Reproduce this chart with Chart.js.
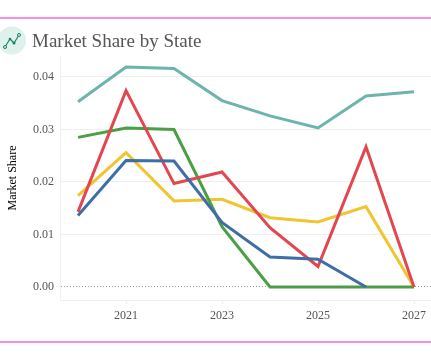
<!DOCTYPE html>
<html><head><meta charset="utf-8">
<style>
html,body{margin:0;padding:0;background:#fff;overflow:hidden}
#wrap{position:relative;width:431px;height:360px}
canvas{position:absolute;left:0;top:0}
.rule{position:absolute;left:0;width:431px;height:2px;background:#f78fe6}
h1{position:absolute;left:32px;top:29px;margin:0;font:400 19px/24px "Liberation Serif",serif;color:#555;white-space:nowrap}
svg{position:absolute;left:-2px;top:26px}
</style></head><body>
<div id="wrap">
<canvas id="c" width="431" height="360"></canvas>
<div class="rule" style="top:17px"></div>
<div class="rule" style="top:341px"></div>
<svg width="28" height="29" viewBox="0 0 28 29"><circle cx="14" cy="14.5" r="14" fill="#dff1ec"/>
<polyline points="7,21 12,13 16,17 21,9" fill="none" stroke="#14825f" stroke-width="1.1"/>
<circle cx="7" cy="21" r="1.5" fill="#dff1ec" stroke="#14825f"/><circle cx="12" cy="13" r="1.3" fill="#14825f"/><circle cx="16" cy="17" r="1.5" fill="#14825f"/><circle cx="21" cy="9" r="1.5" fill="#dff1ec" stroke="#14825f"/></svg>
<h1>Market Share by State</h1>
</div>
<script src="https://cdn.jsdelivr.net/npm/chart.js@4"></script>
<script>
const years=[2020,2021,2022,2023,2024,2025,2026,2027];
const xTicks=[2021,2023,2025,2027];
const yTicks=[0,0.01,0.02,0.03,0.04];
const teal=[0.0353,0.0419,0.0416,0.0355,0.0326,0.0303,0.0364,0.0372];
const green=[0.0285,0.0303,0.0300,0.0115,0,0,0,0];
const yellow=[0.0174,0.0256,0.0164,0.0167,0.0132,0.0124,0.0153,0];
const blue=[0.0136,0.0241,0.0240,0.0123,0.0057,0.0053,0,null];
const red=[0.0143,0.0374,0.0197,0.0219,0.0113,0.0039,0.0267,0];
const serif='"Liberation Serif",serif';
function ds(label,vals,color){return{label,data:vals.map((v,i)=>({x:years[i],y:v})),borderColor:color,borderWidth:3,pointRadius:0,tension:0,fill:false,spanGaps:false,borderJoinStyle:'miter',borderCapStyle:'butt'};}
new Chart(document.getElementById('c'),{type:'line',
data:{datasets:[ds('Blue',blue,'#3e6ea6'),ds('Red',red,'#e2474f'),ds('Green',green,'#4a9e45'),ds('Yellow',yellow,'#f0c531'),ds('Teal',teal,'#6cb4ac')]},
options:{responsive:false,animation:false,layout:{padding:{top:56,left:0,right:0,bottom:0}},
plugins:{legend:{display:false},tooltip:{enabled:false}},
scales:{
x:{type:'linear',min:2019.625,max:2027.354,afterFit:s=>{s.height=60},afterBuildTicks:s=>{s.ticks=xTicks.map(value=>({value}))},
 grid:{drawOnChartArea:false,drawTicks:true,tickLength:4,color:'#eeeeee'},border:{color:'#f0f0f0',width:1},
 ticks:{padding:5,font:{family:serif,size:12},color:'#555',maxRotation:0,autoSkip:false,callback:v=>String(v)}},
y:{type:'linear',min:-0.00248,max:0.04400,afterFit:s=>{s.width=60},afterBuildTicks:s=>{s.ticks=yTicks.map(value=>({value}))},
 title:{display:true,text:'Market Share',color:'#000',font:{family:serif,size:12},padding:{top:6,bottom:0}},
 grid:{drawTicks:false,color:c=>c.tick&&c.tick.value===0?'#999':'#efefef'},border:{color:'#f0f0f0',width:1,dash:c=>c.tick&&c.tick.value===0?[1,2]:[]},
 ticks:{padding:6,font:{family:serif,size:12},color:'#555',autoSkip:false,callback:v=>v.toFixed(2)}}
}}});
</script></body></html>
